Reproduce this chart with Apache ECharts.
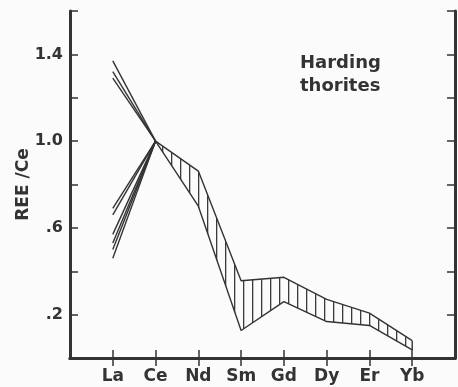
<!DOCTYPE html>
<html>
<head>
<meta charset="utf-8">
<script src="https://cdn.jsdelivr.net/npm/echarts@6/dist/echarts.min.js"></script>
<style>
html,body{margin:0;padding:0;background:#fbfbfb;}
#chart{width:458px;height:387px;}
</style>
</head>
<body>
<div id="chart"></div>
<script>
// Categories (blank padding at both ends of the axis)
const categories = ['', 'La', 'Ce', 'Nd', 'Sm', 'Gd', 'Dy', 'Er', 'Yb', ''];
// La -> Ce lines (La value; all meet at Ce = 1.0)
const laHigh = [1.37, 1.32, 1.29];
const laLow = [0.69, 0.66, 0.57, 0.53, 0.50, 0.46];
const ceValue = 1.0;
// Hatched band Ce..Yb
const bandElements = ['Ce', 'Nd', 'Sm', 'Gd', 'Dy', 'Er', 'Yb'];
const bandUpper = [1.0, 0.862, 0.356, 0.372, 0.27, 0.207, 0.08];
const bandLower = [1.0, 0.70, 0.127, 0.26, 0.168, 0.15, 0.037];
// Y tick labels
const yTickLabels = {'0.2': '.2', '0.6': '.6', '1': '1.0', '1.4': '1.4'};
const annotation = ['Harding', 'thorites'];

const ink = '#333';
const font = 'DejaVu Sans';

function hatchPattern() {
  const c = document.createElement('canvas');
  c.width = 9; c.height = 4;
  const ctx = c.getContext('2d');
  ctx.fillStyle = '#3a3a3a';
  ctx.fillRect(0, 0, 1.3, 4);
  return {image: c, repeat: 'repeat'};
}

const idx = name => categories.indexOf(name);
const series = [];
function laSeries(v) {
  const d = categories.map(() => null);
  d[idx('La')] = v;
  d[idx('Ce')] = ceValue;
  return {type: 'line', data: d, symbol: 'none', silent: true,
          lineStyle: {color: ink, width: 1.4}};
}
laHigh.forEach(v => series.push(laSeries(v)));
laLow.forEach(v => series.push(laSeries(v)));

const lowerData = categories.map(() => null);
const diffData = categories.map(() => null);
bandElements.forEach((e, i) => {
  lowerData[idx(e)] = bandLower[i];
  diffData[idx(e)] = +(bandUpper[i] - bandLower[i]).toFixed(4);
});
series.push({type: 'line', stack: 'band', data: lowerData, symbol: 'none', silent: true,
             lineStyle: {color: ink, width: 1.4}});
series.push({type: 'line', stack: 'band', data: diffData, symbol: 'none', silent: true,
             lineStyle: {color: ink, width: 1.4},
             areaStyle: {color: hatchPattern(), opacity: 1}});
// closing edge at Yb
const ybIdx = idx('Yb');
series.push({type: 'line', data: [[ybIdx, bandLower[bandLower.length - 1]], [ybIdx, bandUpper[bandUpper.length - 1]]],
             symbol: 'none', silent: true, lineStyle: {color: ink, width: 1.4}});

const tickInt = (i) => i > 0 && i < categories.length - 1;
const axisLine = {show: true, lineStyle: {color: ink, width: 3}};

const option = {
  backgroundColor: '#fbfbfb',
  animation: false,
  grid: {left: 70, right: 2, top: 11, bottom: 29},
  xAxis: [
    {type: 'category', data: categories, boundaryGap: false, position: 'bottom',
     axisLine: axisLine,
     axisTick: {inside: true, length: 8, interval: tickInt, lineStyle: {color: ink, width: 1.5}},
     axisLabel: {interval: 0, margin: 10, color: ink, fontFamily: font, fontWeight: 'bold', fontSize: 17},
     splitLine: {show: false}},
    {type: 'category', data: categories, boundaryGap: false, position: 'top',
     axisLine: axisLine,
     axisTick: {inside: true, length: 8, interval: tickInt, lineStyle: {color: ink, width: 1.5}},
     axisLabel: {show: false}, splitLine: {show: false}}
  ],
  yAxis: [
    {type: 'value', min: 0, max: 1.6, interval: 0.2, position: 'left',
     name: 'REE /Ce', nameLocation: 'middle', nameGap: 38, nameMoveOverlap: false,
     nameTextStyle: {color: ink, fontFamily: font, fontWeight: 'bold', fontSize: 17},
     axisLine: axisLine,
     axisTick: {show: true, inside: true, length: 8, lineStyle: {color: ink, width: 1.5}},
     axisLabel: {margin: 7, color: ink, fontFamily: font, fontWeight: 'bold', fontSize: 16,
                 formatter: v => yTickLabels[String(+v.toFixed(2))] || ''},
     splitLine: {show: false}},
    {type: 'value', min: 0, max: 1.6, interval: 0.2, position: 'right',
     axisLine: axisLine,
     axisTick: {show: true, inside: true, length: 8, lineStyle: {color: ink, width: 1.5}},
     axisLabel: {show: false}, splitLine: {show: false}}
  ],
  graphic: [
    {type: 'text', left: 300, top: 54,
     style: {text: annotation[0], fill: ink, font: 'bold 18px "DejaVu Sans"'}},
    {type: 'text', left: 300, top: 77,
     style: {text: annotation[1], fill: ink, font: 'bold 18px "DejaVu Sans"'}}
  ],
  series: series
};

const chart = echarts.init(document.getElementById('chart'));
chart.setOption(option);
</script>
</body>
</html>
